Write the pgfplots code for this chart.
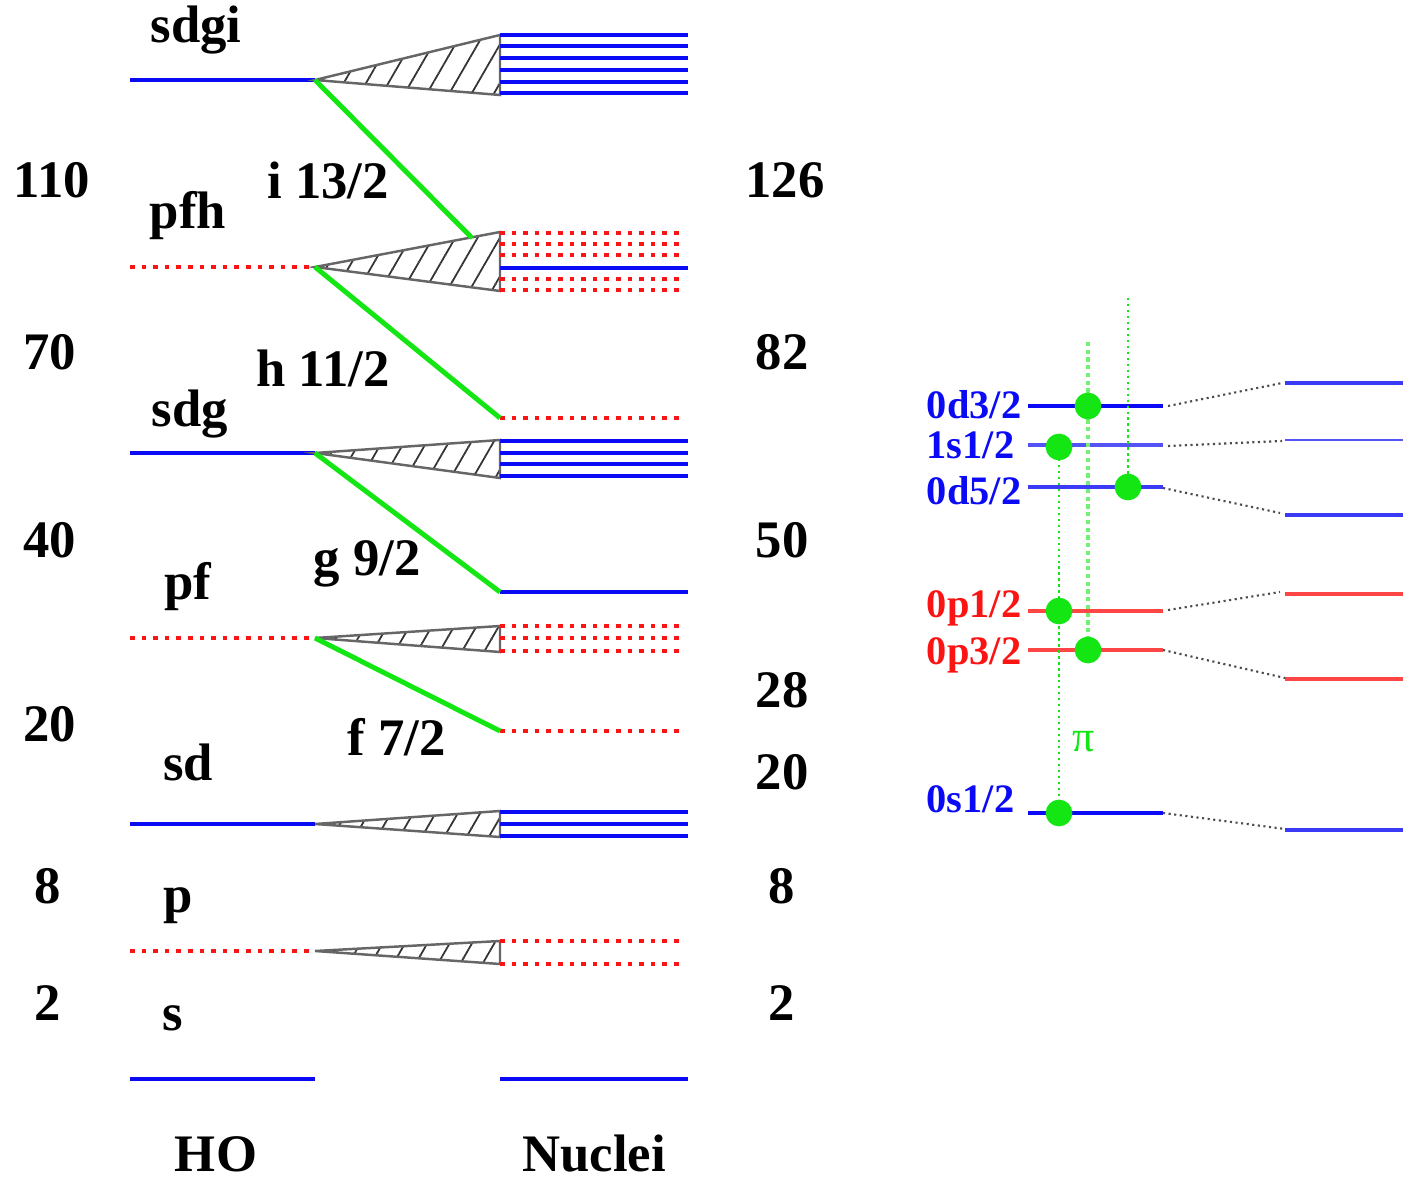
\documentclass[border=0pt]{standalone}
\usepackage{pgfplots}
\pgfplotsset{compat=1.18}
\usetikzlibrary{patterns.meta}
\usepackage{fontspec}
\setmainfont{Liberation Serif}
\newfontfamily\tnr{Liberation Serif}
\definecolor{lvblue}{RGB}{10,10,245}
\definecolor{lvred}{RGB}{250,20,20}
\definecolor{lvred2}{RGB}{255,70,70}
\definecolor{lvgreen}{RGB}{20,230,20}
\tikzset{
  lb/.style={draw=lvblue,line width=1.1pt},
  lr/.style={draw=lvred,line width=1.3pt,dash pattern=on 1.3pt off 2.0pt},
  tri/.style={draw=black!60,line width=0.7pt,
    pattern={Lines[angle=60,distance=5.5pt,line width=0.5pt]},pattern color=black!80},
  trid/.style={draw=none,
    pattern={Dots[angle=60,distance=5.5pt,radius=0.35pt]},pattern color=black!70},
  grn/.style={draw=lvgreen,line width=1.4pt},
  big/.style={font=\tnr\fontsize{15}{18}\selectfont\bfseries,inner sep=0pt},
  sm/.style={font=\tnr\fontsize{11.5}{13}\selectfont\bfseries,inner sep=0pt},
}
\begin{document}
\begin{tikzpicture}
\begin{axis}[width=14.03cm,height=11.81cm,scale only axis,
  xmin=0,xmax=1403,ymin=0,ymax=1181,y dir=reverse,hide axis,clip=false]
% ---------------- HO levels
\addplot[lb] coordinates {(130,80) (315,80)};
\addplot[lr] coordinates {(130,267) (315,267)};
\addplot[lb] coordinates {(130,453) (315,453)};
\addplot[lr] coordinates {(130,638) (315,638)};
\addplot[lb] coordinates {(130,824) (315,824)};
\addplot[lr] coordinates {(130,951) (315,951)};
\addplot[lb] coordinates {(130,1079) (315,1079)};
% ---------------- triangles
\addplot[tri] coordinates {(315,80) (500,35) (500,95)} -- cycle;
\addplot[tri] coordinates {(315,267) (500,232) (500,291)} -- cycle;
\addplot[tri] coordinates {(315,453) (500,440) (500,478)} -- cycle;
\addplot[tri] coordinates {(315,638) (500,626) (500,652)} -- cycle;
\addplot[tri] coordinates {(315,824) (500,811) (500,837)} -- cycle;
\addplot[tri] coordinates {(315,951) (500,941) (500,964)} -- cycle;
\addplot[trid] coordinates {(315,80) (500,35) (500,95)} -- cycle;
\addplot[trid] coordinates {(315,267) (500,232) (500,291)} -- cycle;
\addplot[trid] coordinates {(315,453) (500,440) (500,478)} -- cycle;
\addplot[trid] coordinates {(315,638) (500,626) (500,652)} -- cycle;
\addplot[trid] coordinates {(315,824) (500,811) (500,837)} -- cycle;
\addplot[trid] coordinates {(315,951) (500,941) (500,964)} -- cycle;
% ---------------- Nuclei levels
\addplot[lb] coordinates {(500,35) (688,35)};
\addplot[lb] coordinates {(500,46) (688,46)};
\addplot[lb] coordinates {(500,58) (688,58)};
\addplot[lb] coordinates {(500,70) (688,70)};
\addplot[lb] coordinates {(500,82) (688,82)};
\addplot[lb] coordinates {(500,93) (688,93)};
\addplot[lr] coordinates {(500,233) (684,233)};
\addplot[lr] coordinates {(500,244) (684,244)};
\addplot[lr] coordinates {(500,255) (684,255)};
\addplot[lb] coordinates {(500,268) (688,268)};
\addplot[lr] coordinates {(500,279) (684,279)};
\addplot[lr] coordinates {(500,290) (684,290)};
\addplot[lr] coordinates {(500,418) (684,418)};
\addplot[lb] coordinates {(500,441) (688,441)};
\addplot[lb] coordinates {(500,453) (688,453)};
\addplot[lb] coordinates {(500,464) (688,464)};
\addplot[lb] coordinates {(500,476) (688,476)};
\addplot[lb] coordinates {(500,592) (688,592)};
\addplot[lr] coordinates {(500,626) (684,626)};
\addplot[lr] coordinates {(500,638) (684,638)};
\addplot[lr] coordinates {(500,651) (684,651)};
\addplot[lr] coordinates {(500,731) (684,731)};
\addplot[lb] coordinates {(500,812) (688,812)};
\addplot[lb] coordinates {(500,824) (688,824)};
\addplot[lb] coordinates {(500,836) (688,836)};
\addplot[lr] coordinates {(500,941) (684,941)};
\addplot[lr] coordinates {(500,964) (684,964)};
\addplot[lb] coordinates {(500,1079) (688,1079)};
% ---------------- intruder (green) lines
\addplot[grn] coordinates {(315,80) (472,238)};
\addplot[grn] coordinates {(315,267) (500,418)};
\addplot[grn] coordinates {(315,453) (500,592)};
\addplot[grn] coordinates {(315,638) (500,731)};
% ---------------- left panel labels
\node[big] at (axis cs:196,30) {sdgi};
\node[big] at (axis cs:52,180) {110};
\node[big] at (axis cs:328,180) {i 13/2};
\node[big] at (axis cs:785,180) {126};
\node[big] at (axis cs:188,216) {pfh};
\node[big] at (axis cs:50,352) {70};
\node[big] at (axis cs:323,368) {h 11/2};
\node[big] at (axis cs:782,352) {82};
\node[big] at (axis cs:190,414) {sdg};
\node[big] at (axis cs:50,540) {40};
\node[big] at (axis cs:367,564) {g 9/2};
\node[big] at (axis cs:782,540) {50};
\node[big] at (axis cs:188,587) {pf};
\node[big] at (axis cs:782,690) {28};
\node[big] at (axis cs:50,724) {20};
\node[big] at (axis cs:397,737) {f 7/2};
\node[big] at (axis cs:782,772) {20};
\node[big] at (axis cs:188,762) {sd};
\node[big] at (axis cs:48,886) {8};
\node[big] at (axis cs:782,886) {8};
\node[big] at (axis cs:178,906) {p};
\node[big] at (axis cs:48,1003) {2};
\node[big] at (axis cs:782,1003) {2};
\node[big] at (axis cs:173,1018) {s};
\node[big] at (axis cs:216,1154) {HO};
\node[big] at (axis cs:594,1154) {Nuclei};
% ---------------- right panel: levels
\addplot[draw=lvblue,line width=0.9pt] coordinates {(1028,406) (1163,406)};
\addplot[draw=lvblue!70,line width=0.9pt] coordinates {(1028,445) (1163,445)};
\addplot[draw=lvblue!80,line width=1.1pt] coordinates {(1028,487) (1163,487)};
\addplot[draw=lvred2,line width=1.1pt] coordinates {(1028,611) (1163,611)};
\addplot[draw=lvred2,line width=1.1pt] coordinates {(1028,650) (1163,650)};
\addplot[draw=lvblue,line width=0.9pt] coordinates {(1028,813) (1163,813)};
\addplot[draw=lvblue!80,line width=1.0pt] coordinates {(1285,383) (1403,383)};
\addplot[draw=lvblue!70,line width=0.8pt] coordinates {(1285,440) (1403,440)};
\addplot[draw=lvblue!80,line width=1.0pt] coordinates {(1285,515) (1403,515)};
\addplot[draw=lvred2,line width=1.1pt] coordinates {(1285,594) (1403,594)};
\addplot[draw=lvred2,line width=1.1pt] coordinates {(1285,679) (1403,679)};
\addplot[draw=lvblue!80,line width=1.0pt] coordinates {(1285,830) (1403,830)};
% connectors
\addplot[draw=black!70,line width=0.6pt,densely dotted] coordinates {(1168,406) (1282,383)};
\addplot[draw=black!70,line width=0.6pt,densely dotted] coordinates {(1168,446) (1282,441)};
\addplot[draw=black!70,line width=0.6pt,densely dotted] coordinates {(1163,488) (1280,513)};
\addplot[draw=black!70,line width=0.6pt,densely dotted] coordinates {(1168,610) (1280,592)};
\addplot[draw=black!70,line width=0.6pt,densely dotted] coordinates {(1163,650) (1285,678)};
\addplot[draw=black!70,line width=0.6pt,densely dotted] coordinates {(1163,813) (1285,829)};
% green vertical lines
\addplot[draw=lvgreen,line width=0.7pt,densely dotted] coordinates {(1059,447) (1059,813)};
\addplot[draw=lvgreen!60,line width=1.2pt,densely dotted] coordinates {(1088,342) (1088,650)};
\addplot[draw=lvgreen,line width=0.7pt,densely dotted] coordinates {(1128,298) (1128,487)};
\addplot[only marks,mark=*,mark size=3.6pt,mark options={fill=lvgreen,draw=lvgreen}]
  coordinates {(1088,406) (1059,447) (1128,487) (1059,611) (1088,650) (1059,813)};
% right panel labels
\node[sm,text=lvblue,anchor=east] at (axis cs:1022,405) {0d3/2};
\node[sm,text=lvblue,anchor=east] at (axis cs:1015,445) {1s1/2};
\node[sm,text=lvblue,anchor=east] at (axis cs:1022,491) {0d5/2};
\node[sm,text=lvred,anchor=east] at (axis cs:1022,608) {0p1/2};
\node[sm,text=lvred,anchor=east] at (axis cs:1022,655) {0p3/2};
\node[sm,text=lvblue,anchor=east] at (axis cs:1015,799) {0s1/2};
\node[font=\tnr\fontsize{12.5}{14}\selectfont,text=lvgreen,inner sep=0pt] at (axis cs:1084,742) {π};
\end{axis}
\pgfresetboundingbox
\path (current axis.south west) rectangle (current axis.north east);
\end{tikzpicture}
\end{document}
